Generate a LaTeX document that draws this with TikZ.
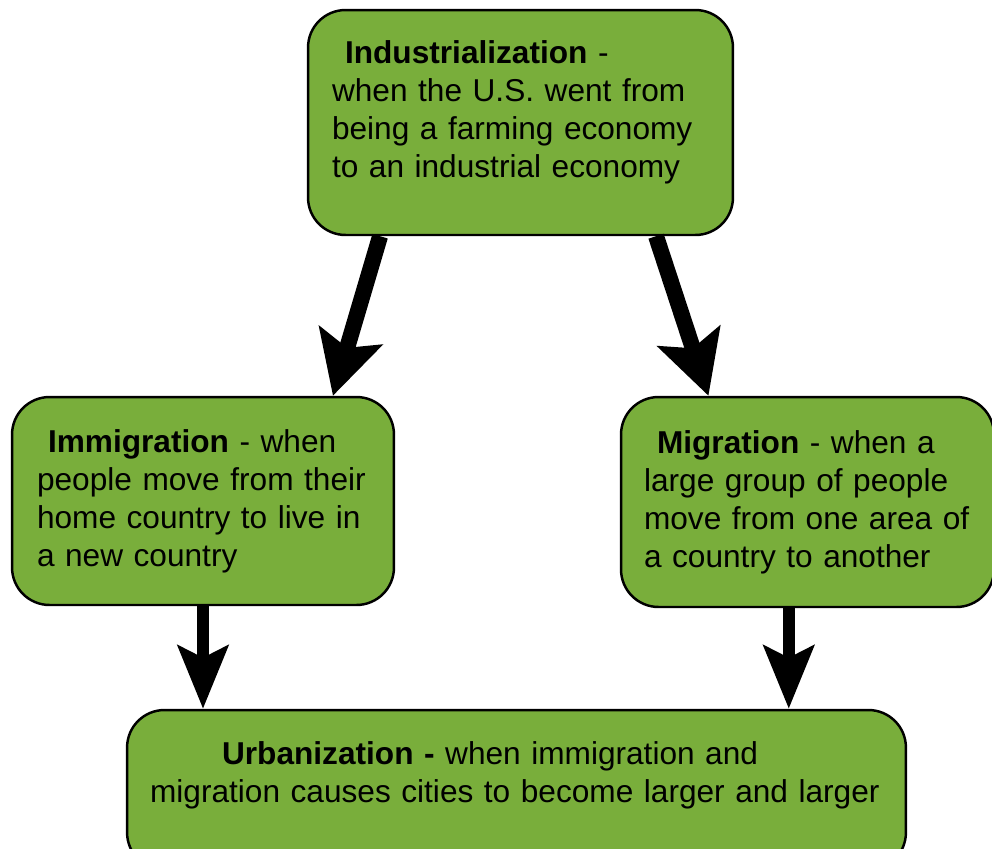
\documentclass[tikz,border=0pt]{standalone}
\usepackage{fontspec}
\setmainfont{Liberation Sans}
\usetikzlibrary{arrows.meta, calc}
\definecolor{leaf}{RGB}{121,174,59}

\begin{document}
\begin{tikzpicture}[x=0.02cm, y=-0.02cm,
    box/.style={draw, line width=1.4pt, fill=leaf, rounded corners=0.75cm, align=left,
      font=\fontsize{18}{21.6}\selectfont},
    flow/.style={-{Stealth[length=1.25cm, width=1.3cm, inset=0.25cm]}, line width=0.32cm},
    flowsmall/.style={-{Stealth[length=1.26cm, width=1.0cm, inset=0.24cm]}, line width=0.24cm}]

    \clip (0,0) rectangle (992,849);

    \node [box, minimum width=8.5cm, minimum height=4.5cm, inner xsep=0.48cm, text width=7.54cm, text depth=2.82cm] (ind) at (520.5,122.5)
        {\hspace{0.26cm}\textbf{Industrialization} -\\ when the U.S. went from\\ being a farming economy\\ to an industrial economy};
    \node [box, minimum width=7.64cm, minimum height=4.16cm, inner xsep=0.5cm, text width=6.64cm] (imm) at (203,501)
        {\hspace{0.22cm}\textbf{Immigration} - when\\ people move from their\\ home country to live in\\ a new country};
    \node [box, minimum width=7.46cm, minimum height=4.2cm, inner xsep=0.46cm, text width=6.54cm] (mig) at (807.5,502)
        {\hspace{0.26cm}\textbf{Migration} - when a\\ large group of people\\ move from one area of\\ a country to another};
    \node [box, minimum width=15.58cm, minimum height=3.2cm, inner xsep=0.46cm, text width=14.66cm, text depth=1.49cm] (urb) at (516.5,790)
        {\hspace{1.44cm}\textbf{Urbanization -} when immigration and\\ migration causes cities to become larger and larger};

    \draw [flow] (ind.219) -- (imm.39);
    \draw [flow] (ind.320) -- (mig.133);
    \draw [flowsmall] (imm.south) -- (imm.south |- urb.north);
    \draw [flowsmall] (mig.260) -- (mig.260 |- urb.north);
\end{tikzpicture}
\end{document}
